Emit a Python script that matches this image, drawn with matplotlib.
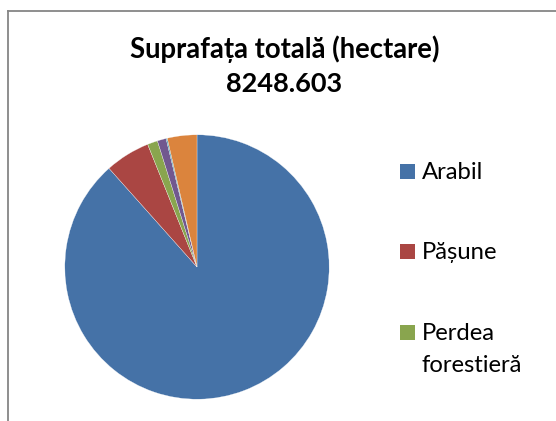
import matplotlib
matplotlib.use("Agg")
import matplotlib.pyplot as plt
from matplotlib.patches import Rectangle
from matplotlib.lines import Line2D

plt.rcParams['font.family'] = ['Lato', 'DejaVu Sans']

# Data (hectares); total 8248.603
categories = ["Arabil", "Pășune", "Perdea forestieră", "Altele 1", "Altele 2", "Altele 3"]
values = [7292, 454, 103, 89, 12, 298]
colors = ["#4572A7", "#AA4643", "#89A54E", "#71588F", "#4198AF", "#DB843D"]
legend_shown = 3  # only the first three legend entries are visible
title_lines = ["Suprafața totală (hectare)", "8248.603"]

W, H = 556, 421
fig = plt.figure(figsize=(W / 100, H / 100), dpi=100)

def fx(px):
    return px / W

def fy(py):
    return 1 - py / H

# chart frame (left and top edges visible)
fig.add_artist(Line2D([fx(7.8), fx(7.8)], [fy(10.8), 0], color="#868686", lw=1.3))
fig.add_artist(Line2D([fx(7.8), 1], [fy(10.8), fy(10.8)], color="#868686", lw=1.3))

# pie
cx, cy, r = 197.0, 267.0, 132.2
ax = fig.add_axes([fx(cx - r), fy(cy + r), (2 * r) / W, (2 * r) / H])
ax.pie(values, colors=colors, startangle=90, counterclock=False,
       wedgeprops=dict(edgecolor="white", linewidth=0.2))
ax.set_xlim(-1, 1)
ax.set_ylim(-1, 1)
ax.set_aspect("auto")
ax.axis("off")

# title
fig.text(fx(285), fy(57.7), title_lines[0], ha="center", va="baseline",
         fontsize=19.8, fontweight="bold", color="black")
fig.text(fx(284), fy(91.7), title_lines[1], ha="center", va="baseline",
         fontsize=19.5, fontweight="bold", color="black")

# legend (manual, to keep markers aligned with first text line)
entry_bottoms = [179.3, 259.3, 340.0]
for i in range(legend_shown):
    yb = entry_bottoms[i]
    fig.add_artist(Rectangle((fx(400), fy(yb)), 15 / W, 15 / H,
                             facecolor=colors[i], edgecolor="none",
                             transform=fig.transFigure))
    words = categories[i].split(" ")
    for j, w in enumerate(words):
        fig.text(fx(421.5), fy(yb + 31.7 * j), w, ha="left", va="baseline",
                 fontsize=17.2, color="black")

fig.savefig("out.png", dpi=100)
